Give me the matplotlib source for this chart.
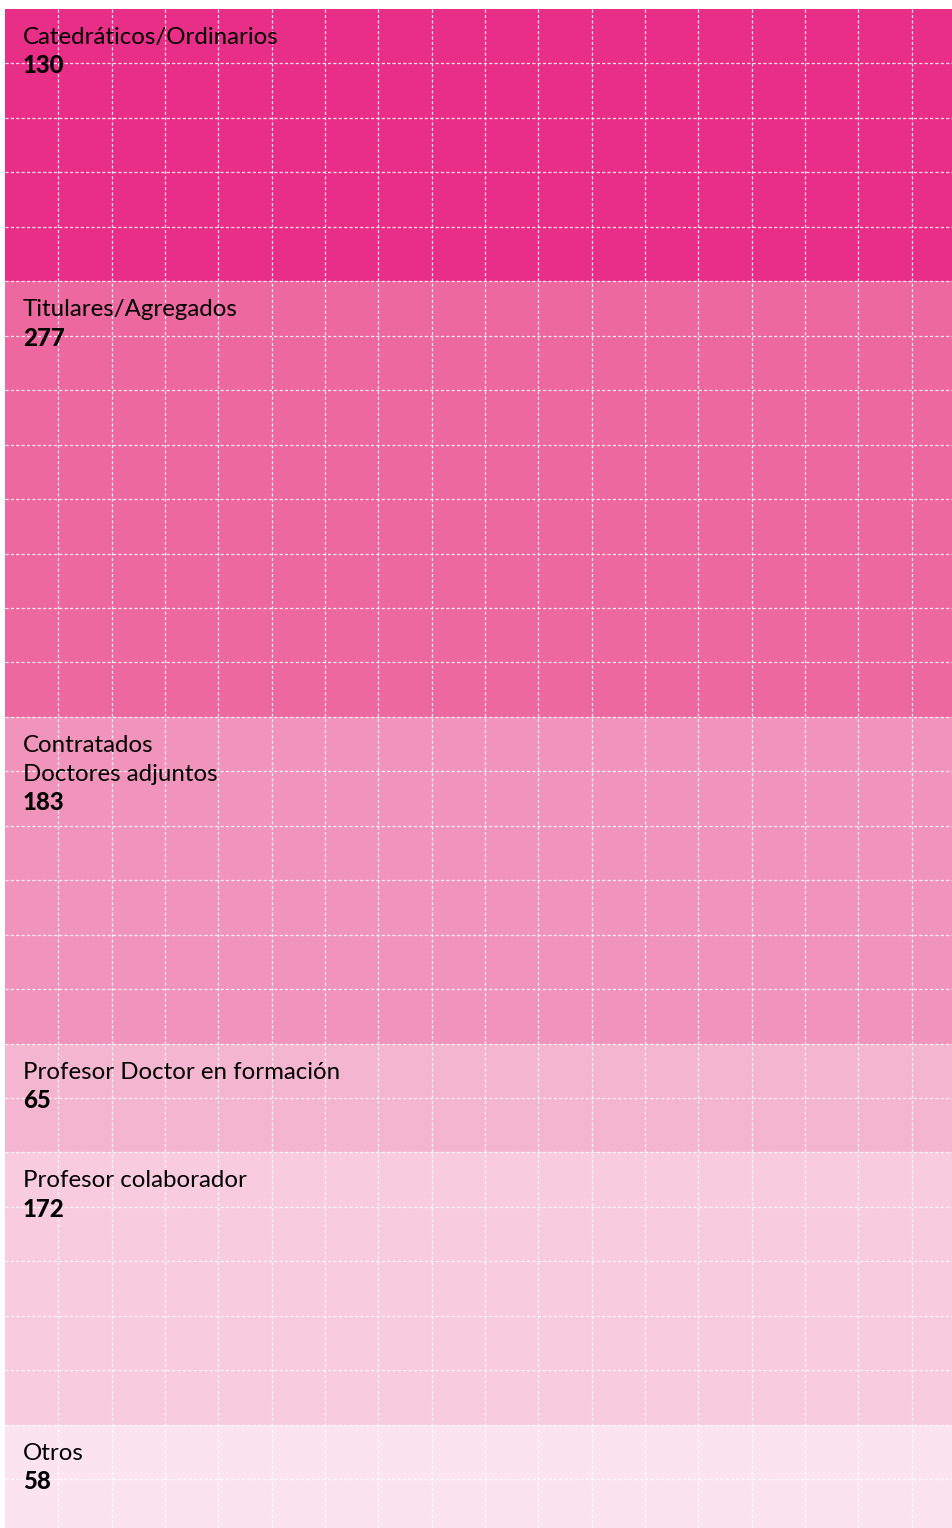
import matplotlib.pyplot as plt
import numpy as np

# profesorado por categoría
categorias = ["Catedráticos/Ordinarios", "Titulares/Agregados",
              "Contratados\nDoctores adjuntos", "Profesor Doctor en formación",
              "Profesor colaborador", "Otros"]
valores = [130, 277, 183, 65, 172, 58]
filas = [5, 8, 6, 2, 5, 2]  # filas de la cuadrícula que ocupa cada bloque
colores = ["#E92E87", "#EC689E", "#F094BB", "#F4B5D0", "#F8CBDF", "#FCE4EF"]

W, H = 953, 1528
left, top = 5, 9
col_w, row_h = 53.33, 54.45

fig = plt.figure(figsize=(W / 100, H / 100), dpi=100)
ax = fig.add_axes([left / W, 0, (W - left) / W, (H - top) / H])
xmax = (W - left) / col_w
ymax = (H - top) / row_h
ax.set_xlim(0, xmax)
ax.set_ylim(ymax, 0)

bottoms = np.concatenate([[0], np.cumsum(filas)[:-1]])
ax.bar(0, filas, width=xmax + 1, bottom=bottoms, color=colores,
       align="edge", linewidth=0, zorder=1)

# cuadrícula punteada blanca
for i in range(1, int(xmax) + 1):
    ax.axvline(i, color="white", lw=0.9, ls=(0, (2.5, 1.8)), alpha=0.85, zorder=2)
for j in range(1, int(ymax) + 1):
    ax.axhline(j, color="white", lw=0.9, ls=(0, (2.5, 1.8)), alpha=0.85, zorder=2)

tx = (23 - left) / col_w
line = 29.3 / row_h
for cat, val, b in zip(categorias, valores, bottoms):
    y = b + 35 / row_h
    for k, part in enumerate(cat.split("\n")):
        ax.text(tx, y + k * line, part, fontsize=17.3, family="Lato",
                color="black", va="baseline", ha="left", zorder=3)
    n = len(cat.split("\n"))
    ax.text(tx, y + n * line, str(val), fontsize=17.3, family="Lato",
            fontweight=900, color="black", va="baseline", ha="left", zorder=3)

ax.axis("off")
fig.savefig("out.png", dpi=100)
